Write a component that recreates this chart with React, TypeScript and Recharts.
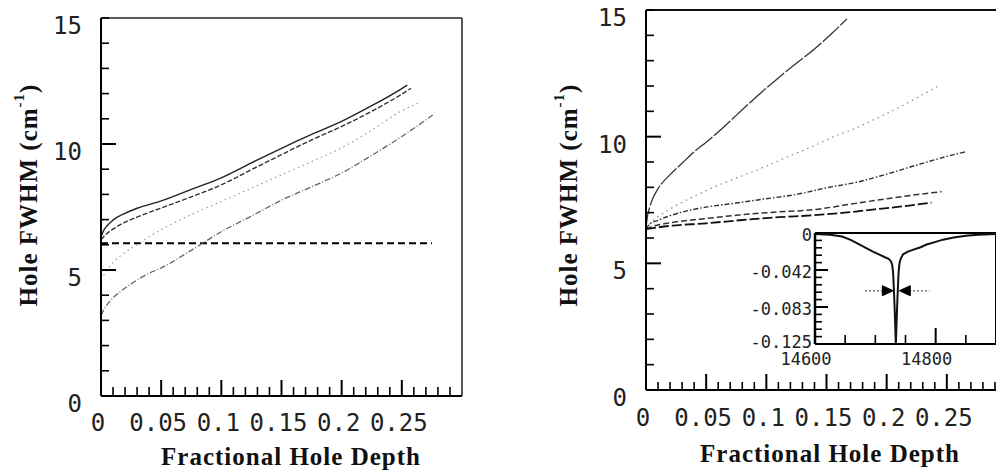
import React from 'react';
import { LineChart, Line, XAxis, YAxis, ReferenceLine } from 'recharts';

// ---------- Left panel data (x = fractional hole depth, y = FWHM cm-1) ----------
const leftTop = [
  { d: 0, w: 6.3 }, { d: 0.002, w: 6.55 }, { d: 0.005, w: 6.75 }, { d: 0.01, w: 6.98 },
  { d: 0.02, w: 7.25 }, { d: 0.03, w: 7.45 }, { d: 0.05, w: 7.74 }, { d: 0.075, w: 8.2 },
  { d: 0.1, w: 8.66 }, { d: 0.125, w: 9.25 }, { d: 0.15, w: 9.83 }, { d: 0.175, w: 10.38 },
  { d: 0.2, w: 10.9 }, { d: 0.225, w: 11.52 }, { d: 0.25, w: 12.2 }, { d: 0.2545, w: 12.34 },
];
const leftSecond = [
  { d: 0, w: 6.2 }, { d: 0.005, w: 6.45 }, { d: 0.01, w: 6.62 }, { d: 0.02, w: 6.9 },
  { d: 0.03, w: 7.1 }, { d: 0.05, w: 7.46 }, { d: 0.075, w: 7.9 }, { d: 0.1, w: 8.38 },
  { d: 0.125, w: 8.98 }, { d: 0.15, w: 9.58 }, { d: 0.175, w: 10.16 }, { d: 0.2, w: 10.7 },
  { d: 0.225, w: 11.3 }, { d: 0.25, w: 11.98 }, { d: 0.2575, w: 12.21 },
];
const leftDotted = [
  { d: 0, w: 4.6 }, { d: 0.005, w: 5.0 }, { d: 0.01, w: 5.3 }, { d: 0.02, w: 5.7 },
  { d: 0.03, w: 6.0 }, { d: 0.04, w: 6.33 }, { d: 0.05, w: 6.6 }, { d: 0.075, w: 7.2 },
  { d: 0.1, w: 7.72 }, { d: 0.125, w: 8.25 }, { d: 0.15, w: 8.78 }, { d: 0.175, w: 9.3 },
  { d: 0.2, w: 9.85 }, { d: 0.225, w: 10.55 }, { d: 0.25, w: 11.32 }, { d: 0.2647, w: 11.64 },
];
const leftLower = [
  { d: 0, w: 3.2 }, { d: 0.002, w: 3.4 }, { d: 0.005, w: 3.62 }, { d: 0.01, w: 3.9 },
  { d: 0.015, w: 4.1 }, { d: 0.025, w: 4.45 }, { d: 0.04, w: 4.87 }, { d: 0.05, w: 5.08 },
  { d: 0.075, w: 5.78 }, { d: 0.1, w: 6.52 }, { d: 0.125, w: 7.14 }, { d: 0.15, w: 7.77 },
  { d: 0.175, w: 8.3 }, { d: 0.2, w: 8.85 }, { d: 0.225, w: 9.55 }, { d: 0.25, w: 10.3 },
  { d: 0.2757, w: 11.15 },
];
const leftFlat = [{ d: 0, w: 6.06 }, { d: 0.275, w: 6.06 }];

// ---------- Right panel data ----------
const rightSteep = [
  { d: 0, w: 6.35 }, { d: 0.001, w: 6.8 }, { d: 0.003, w: 7.2 }, { d: 0.006, w: 7.6 },
  { d: 0.01, w: 7.95 }, { d: 0.02, w: 8.5 }, { d: 0.03, w: 8.95 }, { d: 0.04, w: 9.4 },
  { d: 0.05, w: 9.78 }, { d: 0.06, w: 10.18 }, { d: 0.075, w: 10.84 }, { d: 0.09, w: 11.5 },
  { d: 0.1, w: 11.92 }, { d: 0.11, w: 12.32 }, { d: 0.125, w: 12.9 }, { d: 0.14, w: 13.46 },
  { d: 0.155, w: 14.1 }, { d: 0.167, w: 14.65 },
];
const rightDotted = [
  { d: 0, w: 6.35 }, { d: 0.005, w: 6.65 }, { d: 0.01, w: 6.85 }, { d: 0.015, w: 7.0 },
  { d: 0.025, w: 7.28 }, { d: 0.045, w: 7.76 }, { d: 0.065, w: 8.18 }, { d: 0.09, w: 8.64 },
  { d: 0.12, w: 9.25 }, { d: 0.14, w: 9.65 }, { d: 0.155, w: 9.98 }, { d: 0.17, w: 10.25 },
  { d: 0.195, w: 10.8 }, { d: 0.22, w: 11.4 }, { d: 0.2445, w: 12.05 },
];
const rightDashDot = [
  { d: 0, w: 6.35 }, { d: 0.003, w: 6.55 }, { d: 0.01, w: 6.7 }, { d: 0.02, w: 6.88 },
  { d: 0.035, w: 7.08 }, { d: 0.05, w: 7.22 }, { d: 0.075, w: 7.38 }, { d: 0.1, w: 7.55 },
  { d: 0.125, w: 7.72 }, { d: 0.15, w: 7.98 }, { d: 0.175, w: 8.2 }, { d: 0.2, w: 8.52 },
  { d: 0.225, w: 8.88 }, { d: 0.25, w: 9.22 }, { d: 0.2663, w: 9.41 },
];
const rightDashed = [
  { d: 0, w: 6.35 }, { d: 0.005, w: 6.45 }, { d: 0.02, w: 6.6 }, { d: 0.05, w: 6.77 },
  { d: 0.08, w: 6.92 }, { d: 0.11, w: 7.03 }, { d: 0.14, w: 7.12 }, { d: 0.165, w: 7.3 },
  { d: 0.19, w: 7.48 }, { d: 0.215, w: 7.65 }, { d: 0.2456, w: 7.83 },
];
const rightLongDash = [
  { d: 0, w: 6.35 }, { d: 0.02, w: 6.48 }, { d: 0.05, w: 6.58 }, { d: 0.08, w: 6.71 },
  { d: 0.11, w: 6.82 }, { d: 0.14, w: 6.9 }, { d: 0.165, w: 7.0 }, { d: 0.19, w: 7.13 },
  { d: 0.215, w: 7.26 }, { d: 0.2373, w: 7.4 },
];

// ---------- Inset data (x = wavenumber cm-1, y = absorbance change) ----------
const insetSpectrum = [
  { f: 14600, a: -0.001 }, { f: 14625, a: -0.002 }, { f: 14645, a: -0.004 }, { f: 14660, a: -0.008 },
  { f: 14674, a: -0.013 }, { f: 14685, a: -0.017 }, { f: 14696, a: -0.021 }, { f: 14706, a: -0.024 },
  { f: 14715, a: -0.027 }, { f: 14722, a: -0.029 }, { f: 14726, a: -0.032 }, { f: 14728, a: -0.036 },
  { f: 14729.5, a: -0.045 }, { f: 14730.5, a: -0.06 }, { f: 14732, a: -0.085 }, { f: 14734, a: -0.125 },
  { f: 14736, a: -0.085 }, { f: 14737.5, a: -0.06 }, { f: 14738.5, a: -0.045 }, { f: 14740, a: -0.034 },
  { f: 14742, a: -0.029 }, { f: 14746, a: -0.024 }, { f: 14754, a: -0.021 }, { f: 14762, a: -0.019 },
  { f: 14775, a: -0.016 }, { f: 14785, a: -0.013 }, { f: 14800, a: -0.01 }, { f: 14812, a: -0.0075 },
  { f: 14830, a: -0.005 }, { f: 14850, a: -0.003 }, { f: 14870, a: -0.002 }, { f: 14900, a: -0.001 },
];
const arrowLeftShaft = [{ f: 14683, a: -0.065 }, { f: 14714, a: -0.065 }];
const arrowRightShaft = [{ f: 14756, a: -0.065 }, { f: 14790, a: -0.065 }];
const arrowLeftTip = [{ f: 14729.8, a: -0.065 }];
const arrowRightTip = [{ f: 14739.7, a: -0.065 }];

// ---------- Ticks ----------
const depthTicks = [0, 0.01, 0.02, 0.03, 0.04, 0.05, 0.06, 0.07, 0.08, 0.09, 0.1, 0.11, 0.12, 0.13, 0.14,
  0.15, 0.16, 0.17, 0.18, 0.19, 0.2, 0.21, 0.22, 0.23, 0.24, 0.25, 0.26, 0.27, 0.28, 0.29];
const depthMajor = [0.05, 0.1, 0.15, 0.2, 0.25];
const depthLabels = [0, 0.05, 0.1, 0.15, 0.2, 0.25];
const fwhmTicks = [0, 1, 2, 3, 4, 5, 6, 7, 8, 9, 10, 11, 12, 13, 14, 15];
const fwhmMajor = [5, 10];
const fwhmLabels = [0, 5, 10, 15];
const insetXTicks = [14600, 14650, 14700, 14750, 14800, 14850, 14900];
const insetXMajor = [14800];
const insetXLabels = [14600, 14800];
const insetYTicks = [0, -0.00833, -0.01667, -0.025, -0.03333, -0.04167, -0.05, -0.05833, -0.06667,
  -0.075, -0.08333, -0.09167, -0.1, -0.10833, -0.11667, -0.125];
const insetYMajor = [-0.04167, -0.08333];
const insetYLabels = [0, -0.04167, -0.08333, -0.125];

const NUM_FONT = '"DejaVu Sans Mono", monospace';
const TITLE_FONT = '"Liberation Serif", "Times New Roman", serif';

const near = (arr: number[], v: number) => arr.some((m) => Math.abs(m - v) < 1e-6);

const fmtDepth = (v: number) => String(v);
const fmtInsetY = (v: number) => (v === 0 ? '0' : v.toFixed(3));

function bottomTick(majors: number[], labels: number[], minorLen: number, majorLen: number,
  fontSize: number, dx: number, dy: number, fmt: (v: number) => string) {
  return (props: any) => {
    const { x, y, payload } = props;
    const v = payload.value as number;
    const len = near(majors, v) ? majorLen : minorLen;
    return (
      <g>
        <line x1={x} x2={x} y1={y} y2={y - len} stroke="#000" strokeWidth={near(majors, v) ? 2 : 1.6} />
        {near(labels, v) && (
          <text x={x + dx} y={y + dy} textAnchor="middle" dominantBaseline="central"
            fontFamily={NUM_FONT} fontSize={fontSize} fill="#222">{fmt(v)}</text>
        )}
      </g>
    );
  };
}

function leftTick(majors: number[], labels: number[], minorLen: number, majorLen: number,
  fontSize: number, dx: number, dy: number, fmt: (v: number) => string, lastDy?: number) {
  return (props: any) => {
    const { x, y, payload } = props;
    const v = payload.value as number;
    const len = near(majors, v) ? majorLen : minorLen;
    const extra = lastDy !== undefined && v === labels[labels.length - 1] ? lastDy : dy;
    return (
      <g>
        <line x1={x} x2={x + len} y1={y} y2={y} stroke="#000" strokeWidth={near(majors, v) ? 2 : 1.6} />
        {near(labels, v) && (
          <text x={x + dx} y={y + extra} textAnchor="end" dominantBaseline="central"
            fontFamily={NUM_FONT} fontSize={fontSize} fill="#222">{fmt(v)}</text>
        )}
      </g>
    );
  };
}

function arrowHead(dir: number) {
  return (props: any) => {
    const { cx, cy } = props;
    if (cx == null || cy == null) return <g key={`ahe${dir}`} />;
    const l = 11;
    const h = 5;
    const pts = `${cx},${cy} ${cx - dir * l},${cy - h} ${cx - dir * l},${cy + h}`;
    return <polygon key={`ah${dir}`} points={pts} fill="#000" stroke="#000" strokeWidth={1} />;
  };
}

const YTitle = ({ x, y }: { x: number; y: number }) => (
  <text x={x} y={y} transform={`rotate(-90 ${x} ${y})`} textAnchor="middle" dominantBaseline="central"
    fontFamily={TITLE_FONT} fontWeight="bold" fontSize={25} letterSpacing={1} fill="#111">
    Hole FWHM (cm<tspan dy={-9} fontSize={15}>-1</tspan><tspan dy={9}>)</tspan>
  </text>
);

const XTitle = ({ x, y }: { x: number; y: number }) => (
  <text x={x} y={y} textAnchor="middle" fontFamily={TITLE_FONT} fontWeight="bold" fontSize={25}
    letterSpacing={1} fill="#111">Fractional Hole Depth</text>
);

export default function App() {
  return (
    <div style={{ position: 'fixed', left: 0, top: 0, width: 996, height: 471, overflow: 'hidden', background: '#fff' }}>
      {/* Left panel */}
      <div style={{ position: 'absolute', left: 0, top: 0 }}>
        <LineChart width={470} height={471} margin={{ top: 18, right: 8, bottom: 0, left: 0 }}>
          <XAxis dataKey="d" type="number" domain={[0, 0.3]} ticks={depthTicks} interval={0} height={75}
            tickSize={0} tickMargin={0} tickLine={false} axisLine={{ stroke: '#000', strokeWidth: 2 }}
            tick={bottomTick(depthMajor, depthLabels, 9, 16, 24, -3, 27, fmtDepth)} allowDataOverflow />
          <YAxis type="number" domain={[0, 15]} ticks={fwhmTicks} interval={0} width={101}
            tickSize={0} tickMargin={0} tickLine={false} axisLine={{ stroke: '#000', strokeWidth: 2 }}
            tick={leftTick(fwhmMajor, fwhmLabels, 8, 15, 24, -19, 8, String)} allowDataOverflow />
          <ReferenceLine y={15} stroke="#222" strokeWidth={1.5} />
          <ReferenceLine x={0.3} stroke="#222" strokeWidth={1.5} />
          <Line data={leftFlat} dataKey="w" type="linear" stroke="#000" strokeWidth={2} strokeDasharray="7 4" dot={false} isAnimationActive={false} />
          <Line data={leftLower} dataKey="w" type="monotone" stroke="#666" strokeWidth={1.3} strokeDasharray="6 2 1 2" dot={false} isAnimationActive={false} />
          <Line data={leftDotted} dataKey="w" type="monotone" stroke="#999" strokeWidth={1.2} strokeDasharray="1.5 3.5" dot={false} isAnimationActive={false} />
          <Line data={leftSecond} dataKey="w" type="monotone" stroke="#333" strokeWidth={1.4} strokeDasharray="5 2" dot={false} isAnimationActive={false} />
          <Line data={leftTop} dataKey="w" type="monotone" stroke="#222" strokeWidth={1.4} dot={false} isAnimationActive={false} />
        </LineChart>
      </div>

      {/* Right panel */}
      <div style={{ position: 'absolute', left: 480, top: 0 }}>
        <LineChart width={540} height={471} margin={{ top: 10, right: 13, bottom: 0, left: 0 }}>
          <XAxis dataKey="d" type="number" domain={[0, 0.3]} ticks={depthTicks} interval={0} height={81}
            tickSize={0} tickMargin={0} tickLine={false} axisLine={{ stroke: '#000', strokeWidth: 2 }}
            tick={bottomTick(depthMajor, depthLabels, 8, 16, 24, -3, 28, fmtDepth)} allowDataOverflow />
          <YAxis type="number" domain={[0, 15]} ticks={fwhmTicks} interval={0} width={166}
            tickSize={0} tickMargin={0} tickLine={false} axisLine={{ stroke: '#000', strokeWidth: 2 }}
            tick={leftTick(fwhmMajor, fwhmLabels, 8, 15, 24, -19, 8, String)} allowDataOverflow />
          <ReferenceLine y={15} stroke="#111" strokeWidth={2} />
          <Line data={rightSteep} dataKey="w" type="monotone" stroke="#333" strokeWidth={1.3} strokeDasharray="22 2" dot={false} isAnimationActive={false} />
          <Line data={rightDotted} dataKey="w" type="monotone" stroke="#888" strokeWidth={1.2} strokeDasharray="1.5 4" dot={false} isAnimationActive={false} />
          <Line data={rightDashDot} dataKey="w" type="monotone" stroke="#333" strokeWidth={1.4} strokeDasharray="5 2 1.5 2" dot={false} isAnimationActive={false} />
          <Line data={rightDashed} dataKey="w" type="monotone" stroke="#333" strokeWidth={1.5} strokeDasharray="6 3" dot={false} isAnimationActive={false} />
          <Line data={rightLongDash} dataKey="w" type="monotone" stroke="#111" strokeWidth={1.8} strokeDasharray="10 3" dot={false} isAnimationActive={false} />
        </LineChart>
      </div>

      {/* Inset */}
      <div style={{ position: 'absolute', left: 740, top: 225 }}>
        <LineChart width={256} height={150} margin={{ top: 8, right: 0, bottom: 0, left: 0 }}>
          <XAxis dataKey="f" type="number" domain={[14600, 14900]} ticks={insetXTicks} interval={0} height={31}
            tickSize={0} tickMargin={0} tickLine={false} axisLine={{ stroke: '#000', strokeWidth: 2 }}
            tick={bottomTick(insetXMajor, insetXLabels, 9, 16, 17, -9, 15, String)} allowDataOverflow />
          <YAxis type="number" domain={[-0.125, 0]} ticks={insetYTicks} interval={0} width={75}
            tickSize={0} tickMargin={0} tickLine={false} axisLine={{ stroke: '#000', strokeWidth: 2.5 }}
            tick={leftTick(insetYMajor, insetYLabels, 7, 13, 17, -3, 2, fmtInsetY, -2)} allowDataOverflow />
          <ReferenceLine y={0} stroke="#000" strokeWidth={2} />
          <ReferenceLine x={14900} stroke="#000" strokeWidth={2} />
          <Line data={insetSpectrum} dataKey="a" type="linear" stroke="#111" strokeWidth={2} dot={false} isAnimationActive={false} />
          <Line data={arrowLeftShaft} dataKey="a" type="linear" stroke="#777" strokeWidth={1.5} strokeDasharray="2 2" dot={false} isAnimationActive={false} />
          <Line data={arrowRightShaft} dataKey="a" type="linear" stroke="#777" strokeWidth={1.5} strokeDasharray="2 2" dot={false} isAnimationActive={false} />
          <Line data={arrowLeftTip} dataKey="a" type="linear" stroke="none" dot={arrowHead(1)} isAnimationActive={false} />
          <Line data={arrowRightTip} dataKey="a" type="linear" stroke="none" dot={arrowHead(-1)} isAnimationActive={false} />
        </LineChart>
      </div>

      {/* Axis titles */}
      <svg width={996} height={471} style={{ position: 'absolute', left: 0, top: 0, pointerEvents: 'none' }}>
        <YTitle x={28} y={195} />
        <XTitle x={291} y={465} />
        <YTitle x={568} y={195} />
        <XTitle x={830} y={462} />
      </svg>
    </div>
  );
}
